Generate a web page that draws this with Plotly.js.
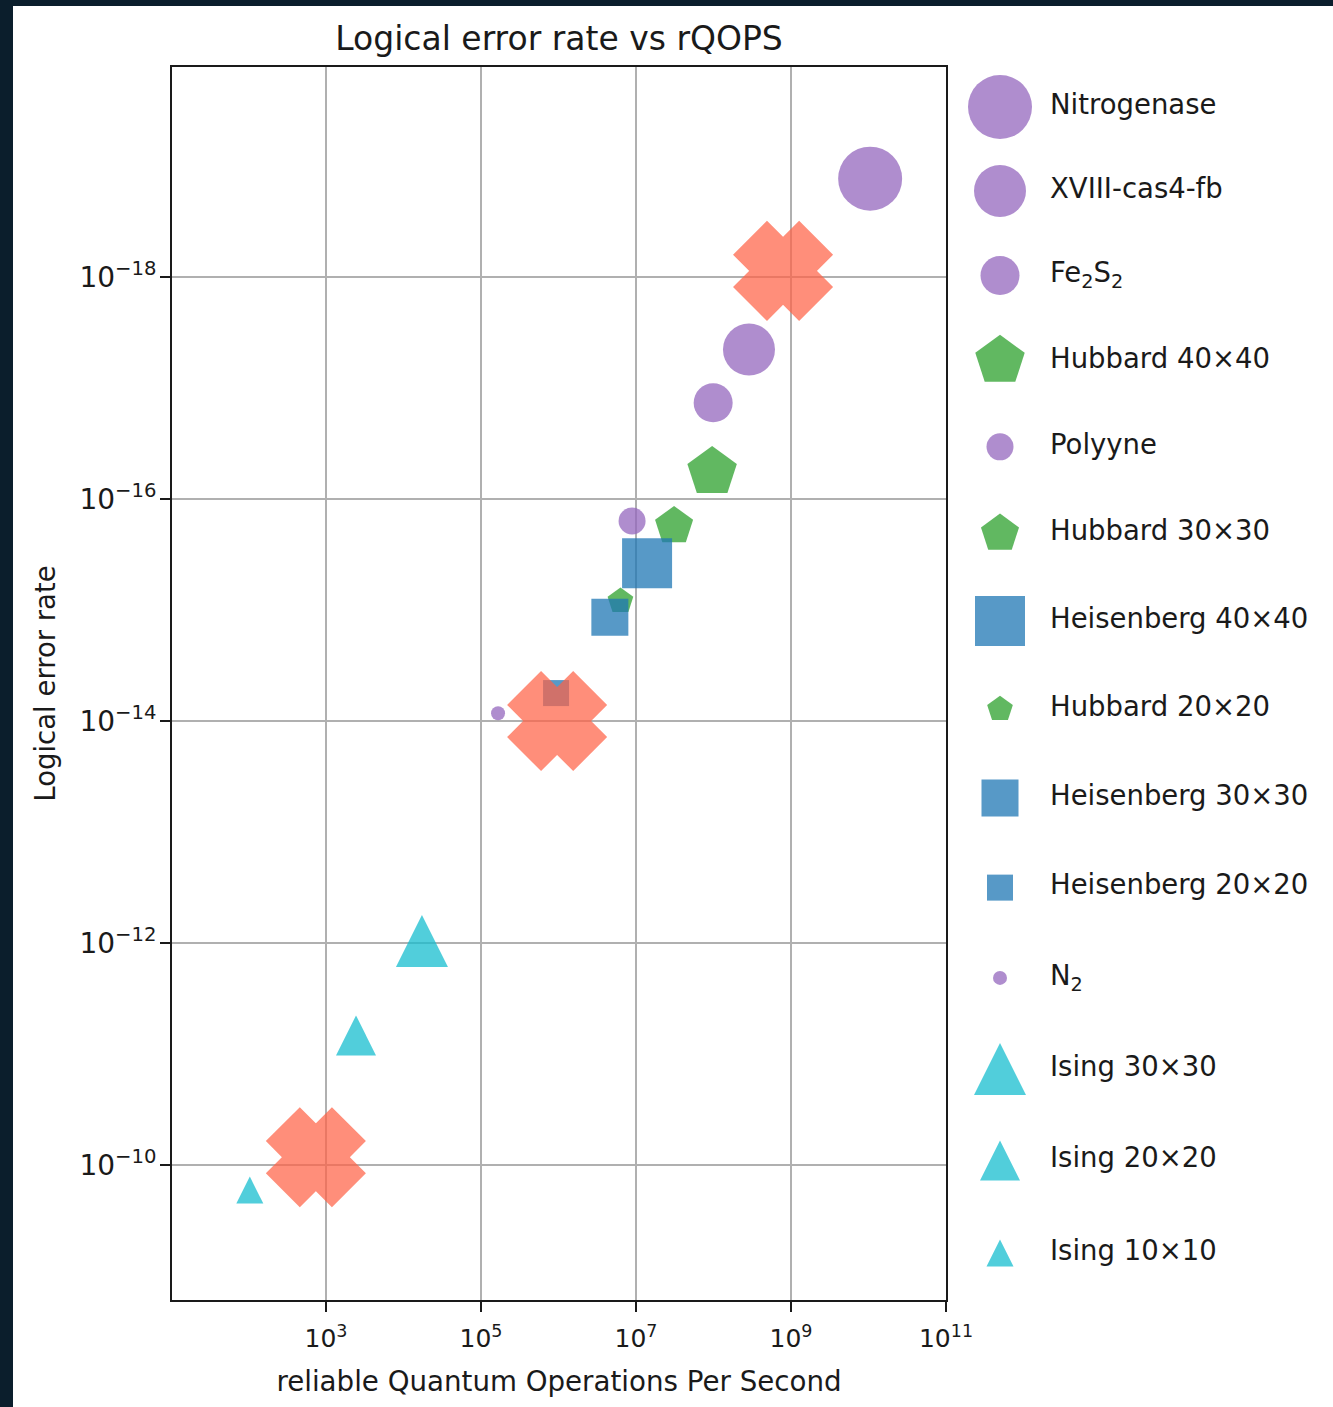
<!DOCTYPE html>
<html><head><meta charset="utf-8">
<script src="https://cdn.plot.ly/plotly-3.0.1.min.js"></script>
<style>
html,body{margin:0;padding:0;background:#0b1e2c;width:1333px;height:1407px;overflow:hidden}
#chart{position:absolute;left:13px;top:6px;width:1320px;height:1401px;background:#fff}
</style></head><body><div id="chart"></div>
<script>
// ---------- data ----------
const seriesNames = ['Nitrogenase','XVIII-cas4-fb','Fe<sub>2</sub>S<sub>2</sub>','Hubbard 40×40','Polyyne','Hubbard 30×30','Heisenberg 40×40','Hubbard 20×20','Heisenberg 30×30','Heisenberg 20×20','N<sub>2</sub>','Ising 30×30','Ising 20×20','Ising 10×10'];
const seriesFamily = ['chem','chem','chem','hubbard','chem','hubbard','heisenberg','hubbard','heisenberg','heisenberg','chem','ising','ising','ising'];
const rqops = [1.05e10, 2.87e8, 9.9e7, 9.6e7, 8.9e6, 3.1e7, 1.39e7, 6.3e6, 4.6e6, 9.3e5, 1.66e5, 1.73e4, 2.44e3, 1.04e2];
const errorRate = [1.3e-19, 4.5e-18, 1.36e-17, 5.7e-17, 1.58e-16, 1.75e-16, 3.8e-16, 8.3e-16, 1.16e-15, 5.6e-15, 8.5e-15, 9.6e-13, 6.8e-12, 1.68e-10];
const targetRqops = [7.4e2, 9.6e5, 7.9e8];
const targetErrorRate = [8.5e-11, 1.0e-14, 8.8e-19];
const xTickVals = [1e3, 1e5, 1e7, 1e9, 1e11];
const xTickText = ['10<sup>3</sup>','10<sup>5</sup>','10<sup>7</sup>','10<sup>9</sup>','10<sup>11</sup>'];
const yTickVals = [1e-18, 1e-16, 1e-14, 1e-12, 1e-10];
const yTickText = ['10<sup>−18</sup>','10<sup>−16</sup>','10<sup>−14</sup>','10<sup>−12</sup>','10<sup>−10</sup>'];

// ---------- styles ----------
// matplotlib-like '^' (as tall as wide): plotly arrow-down turned 180° and pushed back by its radius
const familyStyle = {
  chem:       {symbol:'circle',     color:'#9467bd', tri:false},
  hubbard:    {symbol:'pentagon',   color:'#2ca02c', tri:false},
  heisenberg: {symbol:'square',     color:'#1f77b4', tri:false},
  ising:      {symbol:'arrow-down', color:'#17becf', tri:true}
};
const markerSizes = [64, 52, 39, 52, 27, 40, 50, 27, 37, 26, 14, 52, 40, 27];
const alpha = 0.75;
const FONT = 'DejaVu Sans, Verdana, sans-serif';
const TXT = '#1a1a1a';

function markerFor(i) {
  const st = familyStyle[seriesFamily[i]];
  return {
    symbol: st.symbol, color: st.color, size: markerSizes[i], opacity: alpha, line: {width: 0},
    angle: st.tri ? 180 : 0, standoff: st.tri ? markerSizes[i] / 2 : 0
  };
}

const traces = [];
seriesNames.forEach((n, i) => {
  traces.push({
    type:'scatter', mode:'markers', x:[rqops[i]], y:[errorRate[i]], name:n, showlegend:false,
    xaxis:'x', yaxis:'y', hoverinfo:'skip', marker: markerFor(i)
  });
});
traces.push({
  type:'scatter', mode:'markers', x:targetRqops, y:targetErrorRate, showlegend:false,
  xaxis:'x', yaxis:'y', hoverinfo:'skip',
  marker:{symbol:'x', color:'#ff6347', size:56.8, opacity:0.72, line:{width:25.3, color:'#ff6347'}}
});

// ---------- custom legend on a hidden pixel-scaled axis pair ----------
const legIdx = seriesNames.map((_, i) => i);
const legRowY = legIdx.map(i => 107 + 83.54 * i + 0.355 * i * i);   // row centres (page px)
const legMarkers = legIdx.map(markerFor);
traces.push({
  type:'scatter', mode:'markers', x:legIdx.map(() => 1000), y:legRowY, showlegend:false,
  xaxis:'x2', yaxis:'y2', hoverinfo:'skip', cliponaxis:false,
  marker:{
    symbol: legMarkers.map(m => m.symbol), color: legMarkers.map(m => m.color),
    size: legMarkers.map(m => m.size), angle: legMarkers.map(m => m.angle),
    standoff: legMarkers.map(m => m.standoff), opacity: alpha, line:{width:0}
  }
});
traces.push({
  type:'scatter', mode:'text', x:legIdx.map(() => 1050), y:legRowY, text:seriesNames, textposition:'middle right',
  showlegend:false, xaxis:'x2', yaxis:'y2', hoverinfo:'skip', cliponaxis:false,
  textfont:{family:FONT, size:27.5, color:TXT}
});

const W = 1320, H = 1401, ml = 159, mr = 20, mt = 61, mb = 107;
const pw = W - ml - mr;
const axisCommon = {
  type:'log', showgrid:true, gridcolor:'#b0b0b0', gridwidth:1.6, zeroline:false,
  showline:true, linecolor:'#1a1a1a', linewidth:2, mirror:true,
  ticks:'outside', ticklen:10, tickwidth:1.6, tickcolor:'#1a1a1a', tickmode:'array'
};
const layout = {
  width:W, height:H, margin:{l:ml, r:mr, t:mt, b:mb},
  paper_bgcolor:'#ffffff', plot_bgcolor:'#ffffff', showlegend:false,
  font:{family:FONT, color:TXT},
  title:{text:'Logical error rate vs rQOPS', font:{family:FONT, size:33, color:TXT},
         xref:'container', x:(559-13)/W, xanchor:'center', yref:'container', y:1-(38-6)/H, yanchor:'middle'},
  xaxis:Object.assign({}, axisCommon, {
    domain:[0, 774/pw], range:[1.013, 11], tickvals:xTickVals, ticktext:xTickText,
    tickfont:{family:FONT, size:25, color:TXT}, anchor:'y', ticklabelstandoff:5,
    title:{text:'reliable Quantum Operations Per Second', font:{family:FONT, size:27.7, color:TXT}, standoff:20}
  }),
  yaxis:Object.assign({}, axisCommon, {
    domain:[0, 1], range:[-8.784, -19.892], tickvals:yTickVals, ticktext:yTickText,
    tickfont:{family:FONT, size:28, color:TXT}, anchor:'x', ticklabelstandoff:-2,
    title:{text:'Logical error rate', font:{family:FONT, size:27.5, color:TXT}, standoff:16}
  }),
  // pixel-scaled helper axes for the legend (page coordinates)
  xaxis2:{domain:[(960-172)/pw, 1], range:[960, 1313], visible:false, anchor:'y2', fixedrange:true},
  yaxis2:{domain:[0, 1], range:[1300, 67], visible:false, anchor:'x2', fixedrange:true}
};
Plotly.newPlot('chart', traces, layout, {staticPlot:true, displayModeBar:false});
</script></body></html>
